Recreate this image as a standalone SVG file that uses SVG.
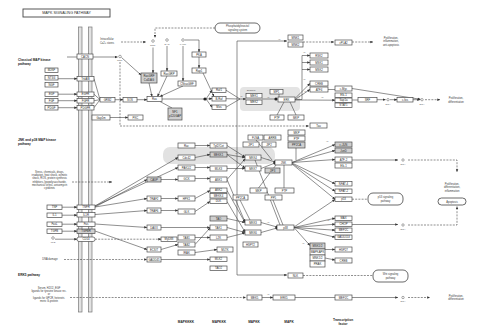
<svg xmlns="http://www.w3.org/2000/svg" width="480" height="333" viewBox="0 0 480 333">
<defs>
<style>
.n rect{fill:#fff;stroke:#4a4a4a;stroke-width:.7}
.k rect{fill:#cfcfcf;stroke:#4a4a4a;stroke-width:.7}
.p rect{fill:#fff;stroke:#444;stroke-width:.8}
text{font-family:"Liberation Sans",Arial,sans-serif;font-size:2.8px;fill:#2a2a2a;text-anchor:middle}
.h{font-weight:bold;font-size:3.2px;text-anchor:start;fill:#222}
.f{font-weight:bold;font-size:3.2px;fill:#222}
.t{font-size:2.6px;fill:#3a3a3a}
.s{font-size:2.4px;fill:#555}
.c{fill:#fff;stroke:#555;stroke-width:.5}
#edges path{fill:none;stroke:#444;stroke-width:.6}
#edges .d{stroke-dasharray:2 1.2}
#edges .a{marker-end:url(#a)}
#edges .o{marker-end:url(#o)}
.mem{fill:#e2e2e2;stroke:#777;stroke-width:.7}
</style>
<marker id="a" viewBox="0 0 6 6" refX="5.5" refY="3" markerWidth="3" markerHeight="3" orient="auto" markerUnits="userSpaceOnUse"><path d="M0,0.5L6,3L0,5.5z" fill="#333"/></marker>
<marker id="o" viewBox="0 0 6 6" refX="3" refY="3" markerWidth="3.2" markerHeight="3.2" markerUnits="userSpaceOnUse"><circle cx="3" cy="3" r="3" fill="#222"/></marker>
</defs>
<rect width="480" height="333" fill="#fff"/>

<g id="title"><rect x="23" y="9" width="87" height="8" fill="#fff" stroke="#444" stroke-width=".9"/><text x="66.5" y="14.3" style="font-size:3.6px">MAPK SIGNALING PATHWAY</text></g>

<g id="membrane"><rect class="mem" x="78.5" y="27" width="3.5" height="285"/><rect class="mem" x="88.5" y="27" width="3.5" height="285"/></g>

<g id="backgrounds">
<rect x="240" y="87" width="60" height="24" rx="4" fill="#e4e4e4"/>
<rect x="163" y="147" width="112" height="17" rx="7" fill="#e2e2e2"/>
</g>

<g id="labels">
<text class="h" x="18" y="61">Classical MAP kinase</text><text class="h" x="18" y="65">pathway</text>
<text class="h" x="18" y="140.5">JNK and p38 MAP kinase</text><text class="h" x="18" y="144.5">pathway</text>
<text class="h" x="18" y="276">ERK5 pathway</text>
<text class="t" x="107" y="40">Intracellular</text><text class="t" x="107" y="43.8">Ca2+ stores</text>
<text class="t" x="391" y="38.5">Proliferation,</text><text class="t" x="391" y="42.3">inflammation,</text><text class="t" x="391" y="46.1">anti-apoptosis</text>
<text class="t" x="456" y="98.8">Proliferation,</text><text class="t" x="456" y="102.6">differentiation</text>
<text class="t" x="49.5" y="173">Stress, chemicals, drugs,</text>
<text class="t" x="49.5" y="176.2">irradiation, heat shock, osmotic</text>
<text class="t" x="49.5" y="179.4">shock, ROS, protein synthesis</text>
<text class="t" x="49.5" y="182.6">inhibitors, lipopolysaccharide,</text>
<text class="t" x="49.5" y="185.8">mechanical stress, anisomycin</text>
<text class="t" x="49.5" y="189">cytokines</text>
<text class="t" x="50" y="260.4">DNA damage</text>
<text class="t" x="49" y="288.6">Serum, H2O2, EGF</text>
<text class="t" x="49" y="291.9">ligands for tyrosine kinase rec.</text>
<text class="t" x="49" y="295.2">or</text>
<text class="t" x="49" y="298.5">ligands for GPCR, heterotri-</text>
<text class="t" x="49" y="301.8">meric G-protein</text>
<text class="t" x="452" y="184.5">Proliferation,</text><text class="t" x="452" y="188.3">differentiation,</text><text class="t" x="452" y="192.1">inflammation</text>
<text class="t" x="456" y="296.5">Proliferation,</text><text class="t" x="456" y="300.3">differentiation</text>
<text class="f" x="186" y="323">MAPKKKK</text><text class="f" x="219" y="323">MAPKKK</text><text class="f" x="254" y="323">MAPKK</text><text class="f" x="289" y="323">MAPK</text>
<text class="f" x="343" y="321.3">Transcription</text><text class="f" x="343" y="325.3">factor</text>
<text class="s" x="251" y="90.5">Scaffold</text>
<text class="s" x="241" y="97">+p</text><text class="s" x="268" y="97.5">+p</text><text class="s" x="304" y="80">+p</text><text class="s" x="305" y="92">+p</text><text class="s" x="322" y="97.5">+p</text><text class="s" x="279" y="39.5">+p</text><text class="s" x="268" y="295">+p</text><text class="s" x="236" y="154">+p</text><text class="s" x="268" y="159.5">+p</text><text class="s" x="268" y="223">+p</text><text class="s" x="327" y="141.5">+p</text><text class="s" x="328" y="221">+p</text><text class="s" x="303" y="244">+p</text><text class="s" x="304" y="53">+p</text>
</g>

<g id="edges">
<path class="d a" d="M215,28H155V37.5"/>
<path class="d a" d="M121,42H146"/>
<path d="M67,57H77"/>
<path class="a" d="M93,57H117.5"/>
<path class="a" d="M121.5,57.5L141,75"/>
<path class="a" d="M153,47.5V73"/>
<path class="a" d="M167,46V71"/>
<path class="a" d="M183,46V81"/>
<path class="a" d="M185,40H199V52"/>
<path class="a" d="M199,57V68"/>
<path class="a" d="M58,78.7H77"/>
<path class="a" d="M58,94.2H77"/>
<path class="a" d="M58,100.7H77"/>
<path class="a" d="M58,107.7H77"/>
<path d="M94,78.7L100,99.7M94,94.2L100,99.7M94,100.7L100,99.7M94,107.7L100,99.7"/>
<path class="a" d="M115,99.7H123"/>
<path class="a" d="M137,99.7H147"/>
<path class="a" d="M149,83L152,96.5"/>
<path class="a" d="M167,76L157.5,96.5"/>
<path class="a" d="M183,86L160,96.5"/>
<path d="M172,108L160,101.5"/>
<path class="o" d="M162,99H205"/>
<path class="a" d="M206,99L212,90.2"/>
<path class="a" d="M206,99L212,98.7"/>
<path class="a" d="M206,99L212,107.2"/>
<path class="a" d="M203,73L214,96.5"/>
<path d="M226,90.2L240,99M226,98.7L240,99M226,107.2L240,99"/>
<path class="a" d="M240,99H246"/>
<path class="o" d="M262,99H276"/>
<path d="M279,94V97"/>
<path d="M277,115L284,102M296,115L290,102"/>
<path class="a" d="M295,99.5H302V55.5H310"/>
<path class="a" d="M302,62.5H310"/>
<path class="a" d="M302,69.5H310"/>
<path class="a" d="M295,98.5L310,83.5"/>
<path class="a" d="M295,99.5L310,89.5"/>
<path class="a" d="M295,100L335,100.2"/>
<path d="M328,89.5H335"/>
<path class="a" d="M352,88.5L420.5,99.3"/>
<path d="M352,100H358"/>
<path class="a" d="M377,99.7H385.5"/>
<path class="a" d="M390,99.7H397"/>
<path class="a" d="M413,99.7H420"/>
<path class="d a" d="M425,99.7H440"/>
<path class="a" d="M237,275V41H287"/>
<path class="a" d="M237,275H287"/>
<path class="d a" d="M303,42H334"/>
<path class="d a" d="M352,42H373"/>
<path class="d a" d="M120,62V126H309"/>
<path class="a" d="M110,117.5H128"/>
<path class="d a" d="M72,182H112"/>
<path class="a" d="M62,207.2H77"/>
<path class="a" d="M62,215.2H77"/>
<path class="a" d="M62,224.2H77"/>
<path class="a" d="M62,231.2H77"/>
<path class="a" d="M55,239.2H77"/>
<path class="a" d="M95,207L147,179.5"/>
<path class="a" d="M95,207L147,198.5"/>
<path class="a" d="M95,214.5L147,210.5"/>
<path class="a" d="M95,224L147,227.5"/>
<path class="a" d="M95,231L147,249.5"/>
<path class="a" d="M95,206L178,157.5"/>
<path class="a" d="M95,206L178,167.5"/>
<path class="d a" d="M95,239.2H161"/>
<path class="d a" d="M64,259.5H147"/>
<path class="a" d="M161,179.5H178"/>
<path class="a" d="M161,198.5H178"/>
<path class="a" d="M161,210.5H178"/>
<path class="a" d="M161,227.5H210"/>
<path class="a" d="M161,249.5L178,244.5"/>
<path class="a" d="M161,259.5H210"/>
<path class="a" d="M195,145.5H210"/>
<path class="a" d="M195,157.5L210,154.5"/>
<path class="a" d="M195,167.5H210"/>
<path class="a" d="M195,178.5H210"/>
<path class="a" d="M195,198.5L210,190.5"/>
<path class="a" d="M195,211.5L210,201.5"/>
<path class="a" d="M195,237.5H210"/>
<path class="a" d="M195,244.5L210,228"/>
<path class="a" d="M195,252.5L217,249.5"/>
<path class="a" d="M227,145.5L245,157"/>
<path class="a" d="M227,154.5L245,157.5"/>
<path class="a" d="M227,154.5L245,168"/>
<path class="a" d="M227,168.5H245"/>
<path class="a" d="M227,179.5L245,159"/>
<path class="a" d="M227,179.5L245,222"/>
<path class="a" d="M227,190.5L245,222.5"/>
<path class="a" d="M227,201.5L245,232"/>
<path class="a" d="M227,218.5L245,222.5"/>
<path class="a" d="M227,227.5L245,232.5"/>
<path class="a" d="M227,237.5L245,233"/>
<path class="o" d="M261,157.5L275,162"/>
<path class="o" d="M261,168.5L275,163"/>
<path d="M255,160L280,225"/>
<path class="o" d="M261,222.5L277,227"/>
<path class="o" d="M261,232.5L277,228"/>
<path d="M258.5,188L276,165M284,188V165M273,200L283,225M240,200L250,220M296,148V160M256,140L272,160"/>
<path class="a" d="M292,162.5L335,144.5"/>
<path class="a" d="M292,162.5L335,150.5"/>
<path class="a" d="M292,162.5L335,159.5"/>
<path class="a" d="M292,163L335,183.7"/>
<path class="a" d="M292,163.5L335,191.2"/>
<path class="a" d="M292,164L335,199.2"/>
<path class="a" d="M294,227.5L335,218.2"/>
<path class="a" d="M294,227.5L335,224.2"/>
<path class="a" d="M294,227.5L335,230.2"/>
<path class="a" d="M294,227.5L335,237.2"/>
<path class="a" d="M294,227L335,199.5"/>
<path class="a" d="M294,227.5L310,245.5"/>
<path class="a" d="M325,249.5H335"/>
<path class="a" d="M325,258L335,260"/>
<path class="a" d="M352,160H398"/>
<path class="d a" d="M408,160H457V172"/>
<path class="a" d="M352,224.5H398"/>
<path class="d a" d="M408,225H457V206.5"/>
<path class="d" d="M352,199.2H368"/>
<path class="d" d="M303,275.5H373"/>
<path class="d a" d="M70,297.5H246"/>
<path class="a" d="M262,297.5H273"/>
<path d="M295,297.5H335"/>
<path class="a" d="M352,297.5H398"/>
<path class="d a" d="M408,297.5H430"/>
</g>

<g id="compounds">
<g id="c-ca1"><circle class="c" cx="120" cy="56.5" r="1.3"/><text class="s" x="120" y="61.3">Ca2+</text></g>
<g id="c-ca2"><circle class="c" cx="153" cy="41" r="1.3"/><text class="s" x="153" y="45.8">Ca2+</text></g>
<g id="c-dag"><circle class="c" cx="167" cy="40" r="1.3"/><text class="s" x="167" y="44.8">DAG</text></g>
<g id="c-camp"><circle class="c" cx="183" cy="40" r="1.3"/><text class="s" x="183" y="44.8">cAMP</text></g>
<g id="c-lps"><circle class="c" cx="53" cy="238" r="1.3"/><text class="s" x="53" y="243">LPS</text></g>
<g id="c-dna1"><circle class="c" cx="388" cy="99.7" r="1.2"/><text class="s" x="388" y="104.5">DNA</text></g>
<g id="c-dna2"><circle class="c" cx="422" cy="99.7" r="1.2"/><text class="s" x="422" y="104.5">DNA</text></g>
<g id="c-dna3"><circle class="c" cx="403" cy="160" r="1.2"/><text class="s" x="403" y="164.8">DNA</text></g>
<g id="c-dna4"><circle class="c" cx="403" cy="225" r="1.2"/><text class="s" x="403" y="229.8">DNA</text></g>
<g id="c-dna5"><circle class="c" cx="403" cy="297.5" r="1.2"/><text class="s" x="403" y="302.3">DNA</text></g>
</g>

<g id="pathways">
<g id="pw-pi" class="p"><rect x="215" y="23" width="45" height="10" rx="5"/><text class="t" x="237.5" y="27.3">Phosphatidylinositol</text><text class="t" x="237.5" y="31">signaling system</text></g>
<g id="pw-p53" class="p"><rect x="368" y="193" width="35" height="12" rx="5"/><text class="t" x="385.5" y="198.3">p53 signaling</text><text class="t" x="385.5" y="202">pathway</text></g>
<g id="pw-wnt" class="p"><rect x="373" y="270" width="35" height="12" rx="5"/><text class="t" x="390.5" y="275.3">Wnt signaling</text><text class="t" x="390.5" y="279">pathway</text></g>
<g id="pw-apop" class="p"><rect x="438" y="198" width="28" height="7" rx="3.5"/><text class="t" x="452" y="202.5">Apoptosis</text></g>
</g>

<g id="nodes">
<g id="n-bdnf" class="n"><rect x="45" y="68" width="13" height="4.5"/><text x="51.5" y="71.25">BDNF</text></g>
<g id="n-nt34" class="n"><rect x="45" y="75.5" width="13" height="4.5"/><text x="51.5" y="78.75">NT3/4</text></g>
<g id="n-ngf" class="n"><rect x="45" y="82.5" width="13" height="4.5"/><text x="51.5" y="85.75">NGF</text></g>
<g id="n-egf" class="n"><rect x="45" y="92" width="13" height="4.5"/><text x="51.5" y="95.25">EGF</text></g>
<g id="n-fgf" class="n"><rect x="45" y="98.5" width="13" height="4.5"/><text x="51.5" y="101.75">FGF</text></g>
<g id="n-pdgf" class="n"><rect x="45" y="105.5" width="13" height="4.5"/><text x="51.5" y="108.75">PDGF</text></g>
<g id="n-cacn" class="n"><rect x="77" y="54" width="16" height="5"/><text x="85" y="57.5">CACN</text></g>
<g id="n-trk" class="n"><rect x="77" y="76.5" width="17" height="4.5"/><text x="85.5" y="79.75">TrkA/B</text></g>
<g id="n-egfr" class="n"><rect x="77" y="92" width="17" height="4.5"/><text x="85.5" y="95.25">EGFR</text></g>
<g id="n-fgfr" class="n"><rect x="77" y="98.5" width="17" height="4.5"/><text x="85.5" y="101.75">FGFR</text></g>
<g id="n-pdgfr" class="n"><rect x="77" y="105.5" width="17" height="4.5"/><text x="85.5" y="108.75">PDGFR</text></g>
<g id="n-grb2" class="n"><rect x="100" y="97.5" width="15" height="4.5"/><text x="107.5" y="100.75">GRB2</text></g>
<g id="n-sos" class="n"><rect x="123" y="97.5" width="14" height="4.5"/><text x="130" y="100.75">SOS</text></g>
<g id="n-ras" class="n"><rect x="147" y="96.5" width="15" height="5"/><text x="154.5" y="100">Ras</text></g>
<g id="n-rasgrf" class="k"><rect x="141" y="73" width="16" height="10"/><text x="149" y="77.3">RasGRF</text><text x="149" y="81.2">CalDAG</text></g>
<g id="n-rasgrp" class="n"><rect x="161" y="71" width="16" height="5"/><text x="169" y="74.5">RasGRP</text></g>
<g id="n-cnras" class="n"><rect x="178" y="81" width="18" height="5"/><text x="187" y="84.5">CNrasGEF</text></g>
<g id="n-pka" class="n"><rect x="192" y="52" width="14" height="5"/><text x="199" y="55.5">PKA</text></g>
<g id="n-rap1" class="n"><rect x="192" y="68" width="14" height="5"/><text x="199" y="71.5">Rap1</text></g>
<g id="n-nf1" class="k"><rect x="168" y="108" width="14" height="12"/><text x="175" y="113">NF1</text><text x="175" y="117">p120GAP</text></g>
<g id="n-raf1" class="n"><rect x="212" y="88" width="14" height="4.5"/><text x="219" y="91.25">Raf1</text></g>
<g id="n-braf" class="n"><rect x="212" y="96.5" width="14" height="4.5"/><text x="219" y="99.75">B-Raf</text></g>
<g id="n-mos" class="n"><rect x="212" y="105" width="14" height="4.5"/><text x="219" y="108.25">Mos</text></g>
<g id="n-mek1" class="n"><rect x="246" y="93.5" width="16" height="4.5"/><text x="254" y="96.75">MEK1</text></g>
<g id="n-mek2" class="n"><rect x="246" y="100" width="16" height="4.5"/><text x="254" y="103.25">MEK2</text></g>
<g id="n-mp1" class="n"><rect x="270" y="89.5" width="13" height="4.5"/><text x="276.5" y="92.75">MP1</text></g>
<g id="n-erk" class="n"><rect x="278" y="97" width="17" height="5"/><text x="286.5" y="100.5">ERK</text></g>
<g id="n-ptp" class="n"><rect x="270" y="115" width="14" height="5"/><text x="277" y="118.5">PTP</text></g>
<g id="n-mkp" class="n"><rect x="288" y="115" width="16" height="5"/><text x="296" y="118.5">MKP</text></g>
<g id="n-mnk1" class="n"><rect x="288" y="35" width="15" height="5"/><text x="295.5" y="38.5">MNK1</text></g>
<g id="n-mnk2" class="n"><rect x="288" y="42" width="15" height="5"/><text x="295.5" y="45.5">MNK2</text></g>
<g id="n-cpla2" class="n"><rect x="335" y="40" width="17" height="5"/><text x="343.5" y="43.5">cPLA2</text></g>
<g id="n-rsk2" class="n"><rect x="310" y="53" width="18" height="5"/><text x="319" y="56.5">RSK2</text></g>
<g id="n-msk1" class="n"><rect x="310" y="60" width="18" height="5"/><text x="319" y="63.5">MSK1</text></g>
<g id="n-msk2" class="n"><rect x="310" y="67" width="18" height="5"/><text x="319" y="70.5">MSK2</text></g>
<g id="n-creb" class="n"><rect x="310" y="81" width="18" height="5"/><text x="319" y="84.5">CREB</text></g>
<g id="n-atf4" class="n"><rect x="310" y="87" width="18" height="5"/><text x="319" y="90.5">ATF4</text></g>
<g id="n-cmyc" class="n"><rect x="335" y="86" width="17" height="5"/><text x="343.5" y="89.5">c-Myc</text></g>
<g id="n-elk1" class="n"><rect x="335" y="93" width="17" height="4.5"/><text x="343.5" y="96.25">Elk-1</text></g>
<g id="n-sap1a" class="n"><rect x="335" y="98" width="17" height="4.5"/><text x="343.5" y="101.25">Sap1a</text></g>
<g id="n-stat1" class="n"><rect x="335" y="103" width="17" height="4.5"/><text x="343.5" y="106.25">STAT1</text></g>
<g id="n-srf" class="n"><rect x="358" y="97.5" width="19" height="4.5"/><text x="367.5" y="100.75">SRF</text></g>
<g id="n-cfos" class="n"><rect x="397" y="97.5" width="16" height="4.5"/><text x="405" y="100.75">c-fos</text></g>
<g id="n-tau" class="n"><rect x="310" y="123" width="17" height="5"/><text x="318.5" y="126.5">Tau</text></g>
<g id="n-gap1m" class="n"><rect x="92" y="115" width="18" height="5"/><text x="101" y="118.5">Gap1m</text></g>
<g id="n-pkc" class="n"><rect x="128" y="115" width="15" height="5"/><text x="135.5" y="118.5">PKC</text></g>

<g id="n-tnf" class="n"><rect x="47" y="205" width="15" height="4.5"/><text x="54.5" y="208.25">TNF</text></g>
<g id="n-il1" class="n"><rect x="47" y="213" width="15" height="4.5"/><text x="54.5" y="216.25">IL1</text></g>
<g id="n-fasl" class="n"><rect x="47" y="222" width="15" height="4.5"/><text x="54.5" y="225.25">FasL</text></g>
<g id="n-tgfb" class="n"><rect x="47" y="229" width="15" height="4.5"/><text x="54.5" y="232.25">TGFB</text></g>
<g id="n-tnfr" class="n"><rect x="77" y="205" width="18" height="4.5"/><text x="86" y="208.25">TNFR</text></g>
<g id="n-il1r" class="n"><rect x="77" y="212.5" width="18" height="4.5"/><text x="86" y="215.75">IL1R</text></g>
<g id="n-fas" class="n"><rect x="77" y="222" width="18" height="4.5"/><text x="86" y="225.25">Fas</text></g>
<g id="n-tgfbr" class="k"><rect x="77" y="229" width="18" height="4.5"/><text x="86" y="232.25">TGFBR</text></g>
<g id="n-cd14" class="n"><rect x="77" y="237" width="18" height="4.5" rx="2"/><text x="86" y="240.25">CD14</text></g>
<g id="n-casp" class="k"><rect x="147" y="177" width="14" height="5"/><text x="154" y="180.5">CASP</text></g>
<g id="n-traf2" class="n"><rect x="147" y="196" width="14" height="5"/><text x="154" y="199.5">TRAF2</text></g>
<g id="n-traf6" class="n"><rect x="147" y="208" width="14" height="5"/><text x="154" y="211.5">TRAF6</text></g>
<g id="n-daxx" class="n"><rect x="147" y="225" width="14" height="5"/><text x="154" y="228.5">DAXX</text></g>
<g id="n-ecsit" class="n"><rect x="147" y="247" width="14" height="5"/><text x="154" y="250.5">ECSIT</text></g>
<g id="n-gadd45" class="n"><rect x="147" y="257" width="14" height="5"/><text x="154" y="260.5">GADD45</text></g>
<g id="n-myd88" class="n"><rect x="161" y="237" width="16" height="4.5"/><text x="169" y="240.25">MyD88</text></g>
<g id="n-rac" class="n"><rect x="178" y="143" width="17" height="5"/><text x="186.5" y="146.5">Rac</text></g>
<g id="n-cdc42" class="n"><rect x="178" y="155" width="17" height="5"/><text x="186.5" y="158.5">Cdc42</text></g>
<g id="n-pak" class="n"><rect x="178" y="165" width="17" height="5"/><text x="186.5" y="168.5">PAK1/2</text></g>
<g id="n-gck" class="n"><rect x="178" y="176" width="17" height="5"/><text x="186.5" y="179.5">GCK</text></g>
<g id="n-hpk1" class="n"><rect x="178" y="196" width="17" height="5"/><text x="186.5" y="199.5">HPK1</text></g>
<g id="n-glk" class="n"><rect x="178" y="209" width="17" height="5"/><text x="186.5" y="212.5">GLK</text></g>
<g id="n-tab1" class="n"><rect x="178" y="235" width="17" height="5"/><text x="186.5" y="238.5">TAB1</text></g>
<g id="n-tab2" class="n"><rect x="178" y="242" width="17" height="5"/><text x="186.5" y="245.5">TAB2</text></g>
<g id="n-irak" class="n"><rect x="178" y="250" width="17" height="5"/><text x="186.5" y="253.5">IRAK</text></g>
<g id="n-tpl2" class="n"><rect x="210" y="143" width="17" height="5"/><text x="218.5" y="146.5">Tpl2/Cot</text></g>
<g id="n-mekk1" class="k"><rect x="210" y="152" width="17" height="5"/><text x="218.5" y="155.5">MEKK1</text></g>
<g id="n-mlk3" class="n"><rect x="210" y="166" width="17" height="5"/><text x="218.5" y="169.5">MLK3</text></g>
<g id="n-ask1" class="n"><rect x="210" y="177" width="17" height="5"/><text x="218.5" y="180.5">ASK1</text></g>
<g id="n-ask2" class="n"><rect x="210" y="188" width="17" height="4.5"/><text x="218.5" y="191.25">ASK2</text></g>
<g id="n-mekk4" class="n"><rect x="210" y="193.5" width="17" height="4.5"/><text x="218.5" y="196.75">MEKK4</text></g>
<g id="n-dlk" class="n"><rect x="210" y="199" width="17" height="4.5"/><text x="218.5" y="202.25">DLK</text></g>
<g id="n-tao" class="k"><rect x="210" y="216" width="17" height="5"/><text x="218.5" y="219.5">TAO</text></g>
<g id="n-tak1" class="n"><rect x="210" y="225" width="17" height="5"/><text x="218.5" y="228.5">TAK1</text></g>
<g id="n-lzk" class="n"><rect x="210" y="235" width="17" height="5"/><text x="218.5" y="238.5">LZK</text></g>
<g id="n-mltk" class="n"><rect x="217" y="247" width="16" height="5"/><text x="225" y="250.5">MLTK</text></g>
<g id="n-mlk2" class="n"><rect x="210" y="257" width="17" height="4.5"/><text x="218.5" y="260.25">MLK2</text></g>
<g id="n-tao2" class="n"><rect x="210" y="266" width="17" height="4.5"/><text x="218.5" y="269.25">TAO2</text></g>
<g id="n-flna" class="n"><rect x="248" y="135" width="15" height="5"/><text x="255.5" y="138.5">FLNA</text></g>
<g id="n-arrb" class="n"><rect x="264" y="135" width="17" height="5"/><text x="272.5" y="138.5">ARRB</text></g>
<g id="n-jip1" class="n"><rect x="243" y="142" width="16" height="5"/><text x="251" y="145.5">JIP1</text></g>
<g id="n-jip2" class="n"><rect x="262" y="142" width="14" height="5"/><text x="269" y="145.5">JIP2</text></g>
<g id="n-mkpj" class="n"><rect x="288" y="130" width="17" height="5"/><text x="296.5" y="133.5">MKP</text></g>
<g id="n-ptpj" class="n"><rect x="288" y="136" width="17" height="5"/><text x="296.5" y="139.5">PTP</text></g>
<g id="n-pp2caj" class="k"><rect x="288" y="142" width="17" height="6"/><text x="296.5" y="146">PP2CA</text></g>
<g id="n-mkk4" class="n"><rect x="245" y="155" width="16" height="5"/><text x="253" y="158.5">MKK4</text></g>
<g id="n-mkk7" class="n"><rect x="245" y="166" width="16" height="5"/><text x="253" y="169.5">MKK7</text></g>
<g id="n-jip3" class="k"><rect x="265" y="168" width="15" height="5"/><text x="272.5" y="171.5">JIP3</text></g>
<g id="n-jnk" class="n"><rect x="275" y="160" width="17" height="5"/><text x="283.5" y="163.5">JNK</text></g>
<g id="n-mkpp" class="n"><rect x="250" y="188" width="17" height="5"/><text x="258.5" y="191.5">MKP</text></g>
<g id="n-ptpp" class="n"><rect x="275" y="188" width="19" height="5"/><text x="284.5" y="191.5">PTP</text></g>
<g id="n-pp2cap" class="n"><rect x="233" y="195" width="15" height="5"/><text x="240.5" y="198.5">PP2CA</text></g>
<g id="n-pp5" class="n"><rect x="265" y="195" width="17" height="5"/><text x="273.5" y="198.5">PP5</text></g>
<g id="n-mkk3" class="n"><rect x="245" y="220" width="16" height="5"/><text x="253" y="223.5">MKK3</text></g>
<g id="n-mkk6" class="n"><rect x="245" y="230" width="16" height="5"/><text x="253" y="233.5">MKK6</text></g>
<g id="n-hsp72" class="n"><rect x="243" y="242" width="15" height="5"/><text x="250.5" y="245.5">HSP72</text></g>
<g id="n-p38" class="n"><rect x="277" y="225" width="17" height="5"/><text x="285.5" y="228.5">p38</text></g>
<g id="n-cjun" class="k"><rect x="335" y="142" width="17" height="5"/><text x="343.5" y="145.5">c-JUN</text></g>
<g id="n-jund" class="k"><rect x="335" y="148" width="17" height="5"/><text x="343.5" y="151.5">JunD</text></g>
<g id="n-atf2" class="n"><rect x="335" y="157" width="17" height="5"/><text x="343.5" y="160.5">ATF-2</text></g>
<g id="n-elk1j" class="n"><rect x="335" y="163" width="17" height="5"/><text x="343.5" y="166.5">Elk-1</text></g>
<g id="n-nfat4" class="n"><rect x="335" y="181.5" width="17" height="4.5"/><text x="343.5" y="184.75">NFAT-4</text></g>
<g id="n-nfat2" class="n"><rect x="335" y="189" width="17" height="4.5"/><text x="343.5" y="192.25">NFAT-2</text></g>
<g id="n-p53" class="n"><rect x="335" y="197" width="17" height="4.5"/><text x="343.5" y="200.25">p53</text></g>
<g id="n-max" class="n"><rect x="335" y="216" width="17" height="4.5"/><text x="343.5" y="219.25">MAX</text></g>
<g id="n-chop" class="n"><rect x="335" y="222" width="17" height="4.5"/><text x="343.5" y="225.25">CHOP</text></g>
<g id="n-mef2cp" class="n"><rect x="335" y="228" width="17" height="4.5"/><text x="343.5" y="231.25">MEF2C</text></g>
<g id="n-gadd153" class="n"><rect x="335" y="235" width="17" height="4.5"/><text x="343.5" y="238.25">GADD153</text></g>
<g id="n-hsp27" class="n"><rect x="335" y="247" width="17" height="5"/><text x="343.5" y="250.5">HSP27</text></g>
<g id="n-crebp" class="n"><rect x="335" y="258" width="17" height="5"/><text x="343.5" y="261.5">CREB</text></g>
<g id="n-msk12" class="k"><rect x="310" y="243" width="15" height="6"/><text x="317.5" y="247">MSK1/2</text></g>
<g id="n-mapkapk" class="n"><rect x="310" y="249" width="15" height="6"/><text x="317.5" y="253">MAPKAPK</text></g>
<g id="n-mnk12" class="n"><rect x="310" y="255" width="15" height="6"/><text x="317.5" y="259">MNK1/2</text></g>
<g id="n-prak" class="n"><rect x="310" y="261" width="15" height="6"/><text x="317.5" y="265">PRAK</text></g>
<g id="n-nlk" class="n"><rect x="288" y="273" width="15" height="5"/><text x="295.5" y="276.5">NLK</text></g>
<g id="n-mek5" class="n"><rect x="247" y="295" width="15" height="5"/><text x="254.5" y="298.5">MEK5</text></g>
<g id="n-erk5" class="n"><rect x="273" y="295" width="22" height="5"/><text x="284" y="298.5">ERK5</text></g>
<g id="n-mef2c" class="n"><rect x="335" y="295" width="17" height="5"/><text x="343.5" y="298.5">MEF2C</text></g>
</g>
</svg>
